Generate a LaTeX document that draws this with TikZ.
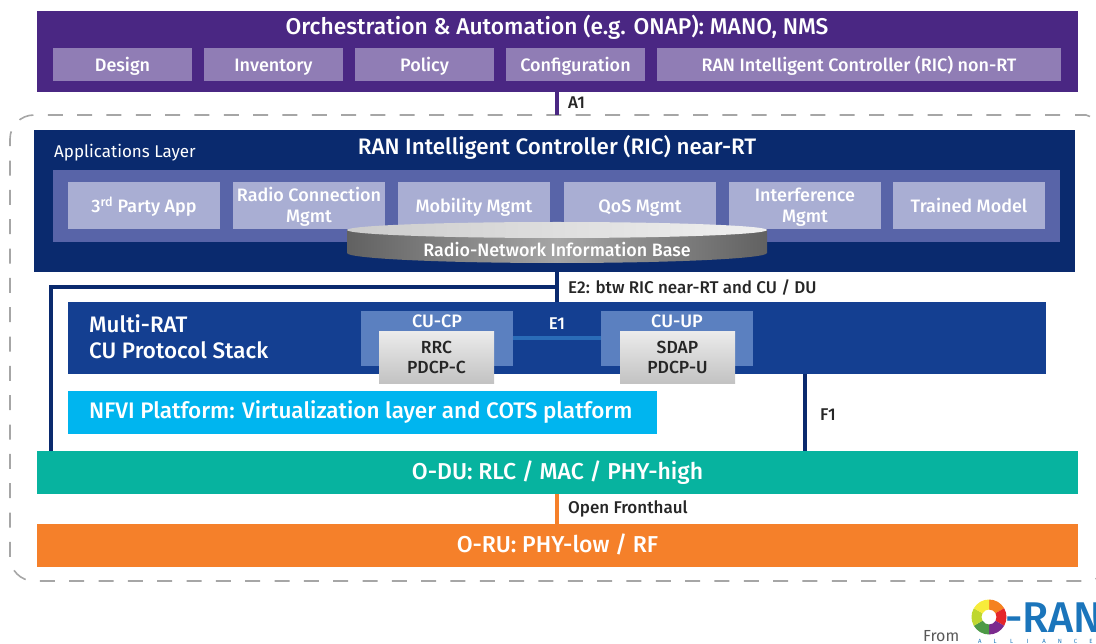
\documentclass[tikz,border=0pt]{standalone}
\usepackage{fontspec}
\setmainfont{Fira Sans}[BoldFont={Fira Sans Medium}]
\usepackage{tikz}
\usetikzlibrary{positioning}
\definecolor{orchcol}{HTML}{4A2783}
\definecolor{orchsub}{HTML}{907DB5}
\definecolor{riccol}{HTML}{0A2A6E}
\definecolor{appbg}{HTML}{5864A8}
\definecolor{appcol}{HTML}{A9AED3}
\definecolor{cucol}{HTML}{143F91}
\definecolor{cusub}{HTML}{5B80C0}
\definecolor{linkcol}{HTML}{2A6CB8}
\definecolor{nfvicol}{HTML}{00B5EF}
\definecolor{ducol}{HTML}{07B39F}
\definecolor{rucol}{HTML}{F5802A}
\definecolor{dashcol}{HTML}{A6A6A6}
\definecolor{ranblue}{HTML}{1B75BB}
\definecolor{ringa}{HTML}{F58220}
\definecolor{ringb}{HTML}{E5262A}
\definecolor{ringc}{HTML}{7B2A8E}
\definecolor{ringd}{HTML}{4E9A47}
\definecolor{ringe}{HTML}{BFD730}
\definecolor{ringf}{HTML}{F7EC3B}
\tikzset{txt/.style = {text = white, font = \fontsize{18}{21}\selectfont\bfseries}}
\tikzset{orchbox/.style = {fill = orchsub, inner sep = 0, minimum height = 33, align = center, txt, text height = 18, text depth = 4}}
\tikzset{appbox/.style = {fill = appcol, inner sep = 0, minimum width = 152, minimum height = 47, align = center, txt, text height = 18, text depth = 4}}
\tikzset{twolines/.style = {text height = 40, text depth = 5}}
\tikzset{cubox/.style = {fill = cusub, inner sep = 0, minimum width = 152, minimum height = 55}}
\tikzset{protobox/.style = {top color = black!8, bottom color = black!24, inner sep = 0, minimum width = 115, minimum height = 52, align = center, text = black!85, font = \fontsize{17.5}{20.5}\selectfont\bfseries, text height = 36, text depth = 4}}
\tikzset{bar/.style = {inner sep = 0, minimum height = 43, txt, font = \fontsize{23}{24}\selectfont\bfseries, text height = 18, text depth = 5}}
\tikzset{lbl/.style = {anchor = west, inner sep = 0, text = black!85, font = \fontsize{17}{18}\selectfont\bfseries}}
\tikzset{wire/.style = {line width = 4, riccol}}
\tikzset{frame/.style = {dashcol, line width = 1.6, dash pattern = on 15 off 14.33}}
\begin{document}
\begin{tikzpicture}[x=1pt, y=-1pt]
      \useasboundingbox (0, 0) rectangle (1096, 644);
      % top layer
      \node [fill = orchcol, inner sep = 0, minimum width = 1041, minimum height = 81] (orch) at (557.5, 51.5) {};
      \node [txt, font = \fontsize{22.8}{24}\selectfont\bfseries] (orchtitle) at (557, 27.5) {Orchestration \& Automation (e.g. ONAP): MANO, NMS};
      \node [orchbox, minimum width = 139] (design) at (122.5, 64.5) {Design};
      \node [orchbox, minimum width = 139] (inventory) at (273.5, 64.5) {Inventory};
      \node [orchbox, minimum width = 139] (policy) at (424.5, 64.5) {Policy};
      \node [orchbox, minimum width = 139] (config) at (575.5, 64.5) {Configuration};
      \node [orchbox, minimum width = 404] (nonrt) at (859, 64.5) {RAN Intelligent Controller (RIC) non-RT};
      % dashed frame
      \draw [frame, rounded corners = 24] (1060, 115) -- (10, 115) -- (10, 581) -- (1110, 581) -- (1110, 500);
      \draw [frame, dash pattern = on 20 off 0] (1075, 115) -- (1086, 115) .. controls (1088, 115) .. (1090, 116.5);
      % near-RT RIC
      \node [fill = riccol, inner sep = 0, minimum width = 1041, minimum height = 142] (ric) at (554.5, 201) {};
      \node [txt, font = \fontsize{22.4}{24}\selectfont\bfseries] (rictitle) at (557, 147.5) {RAN Intelligent Controller (RIC) near-RT};
      \node [text = white, anchor = west, inner sep = 0, font = \fontsize{17}{20}\selectfont] (applayer) at (54, 152.5) {Applications Layer};
      \node [fill = appbg, inner sep = 0, minimum width = 1007, minimum height = 72] (appbg) at (556.5, 206) {};
      \node [appbox] (app1) at (144, 205.5) {3\textsuperscript{rd} Party App};
      \node [appbox, twolines] (app2) at (309, 205.5) {Radio Connection\\Mgmt};
      \node [appbox] (app3) at (474, 205.5) {Mobility Mgmt};
      \node [appbox] (app4) at (640, 205.5) {QoS Mgmt};
      \node [appbox, twolines] (app5) at (805, 205.5) {Interference\\Mgmt};
      \node [appbox] (app6) at (969, 205.5) {Trained Model};
      % database disc
      \path [left color = black!62, right color = black!62, middle color = black!35] (347, 230) -- (347, 253) arc [x radius = 210, y radius = 10, start angle = 180, end angle = 0] -- (767, 230) -- cycle;
      \path [left color = black!20, right color = black!6] (557, 230) ellipse [x radius = 210, y radius = 8];
      \node [txt, font = \fontsize{17.9}{20}\selectfont\bfseries] (rnib) at (557, 250) {Radio-Network Information Base};
      % CU stack
      \node [fill = cucol, inner sep = 0, minimum width = 978, minimum height = 72] (cu) at (557, 338) {};
      \node [txt, anchor = west, align = left, inner sep = 0, font = \fontsize{22.4}{26}\selectfont\bfseries] (multirat) at (89, 337) {Multi-RAT\\CU Protocol Stack};
      \node [cubox] (cucp) at (437, 338.5) {};
      \node [cubox] (cuup) at (677, 338.5) {};
      \node [txt] (cucplbl) at (437, 321) {CU-CP};
      \node [txt] (cuuplbl) at (677, 321) {CU-UP};
      \node [protobox] (rrc) at (436.5, 358) {RRC\\PDCP-C};
      \node [protobox] (sdap) at (677.5, 358) {SDAP\\PDCP-U};
      \draw [linkcol, line width = 4] (cucp.east) -- (cuup.west);
      \node [txt, font = \fontsize{17}{18}\selectfont\bfseries] (e1) at (557, 324) {E1};
      \node [fill = nfvicol, inner sep = 0, minimum width = 589, minimum height = 43] (nfvi) at (362.5, 412.5) {};
      \node [txt, anchor = west, inner sep = 0, font = \fontsize{22.5}{24}\selectfont\bfseries] (nfvitxt) at (89, 412) {NFVI Platform: Virtualization layer and COTS platform};
      % DU and RU
      \node [bar, fill = ducol, minimum width = 1041] (du) at (557.5, 472.5) {O-DU: RLC / MAC / PHY-high};
      \node [bar, fill = rucol, minimum width = 1041] (ru) at (557.5, 545.5) {O-RU: PHY-low / RF};
      % interfaces
      \coordinate (a1end) at (557, 115);
      \coordinate (e2bend) at (557, 287.5);
      \coordinate (e2left) at (51, 287.5);
      \coordinate (f1top) at (805, 374);
      \draw [wire, orchcol] (orch.south -| a1end) -- (a1end);
      \draw [wire] (ric.south -| a1end) -- (cu.north -| a1end);
      \draw [wire] (e2bend) -- (e2left) -- (e2left |- du.north);
      \draw [wire] (f1top) -- (du.north -| f1top);
      \draw [rucol, line width = 4] (du.south -| a1end) -- (ru.north -| a1end);
      \node [lbl] (a1) at (568, 103) {A1};
      \node [lbl] (e2) at (568, 287.5) {E2: btw RIC near-RT and CU / DU};
      \node [lbl] (f1) at (820, 415) {F1};
      \node [lbl] (ofh) at (568, 508.5) {Open Fronthaul};
      % logo
      \node [anchor = west, inner sep = 0, text = black!65, font = \fontsize{16}{20}\selectfont] (from) at (923, 636) {From};
      \foreach \a/\c in {-90/ringa, -30/ringb, 30/ringc, 90/ringd, 150/ringe, 210/ringf} {
        \fill [\c] (989, 617) ++ (\a:17.5) arc [radius = 17.5, start angle = \a, end angle = \a + 60] -- ++ (\a + 60:-10) arc [radius = 7.5, start angle = \a + 60, end angle = \a] -- cycle;
      }
      \node [anchor = west, inner sep = 0, text = ranblue, font = \fontsize{43}{46}\selectfont\bfseries] (oran) at (1005, 617.5) {-RAN};
      \node [anchor = west, inner sep = 0, text = ranblue, font = \fontsize{6}{8}\selectfont] (alliance) at (978, 641) {A\hspace{12pt}L\hspace{13.5pt}L\hspace{13.5pt}I\hspace{14pt}A\hspace{12pt}N\hspace{12pt}C\hspace{12pt}E};
    \end{tikzpicture}
\end{document}
